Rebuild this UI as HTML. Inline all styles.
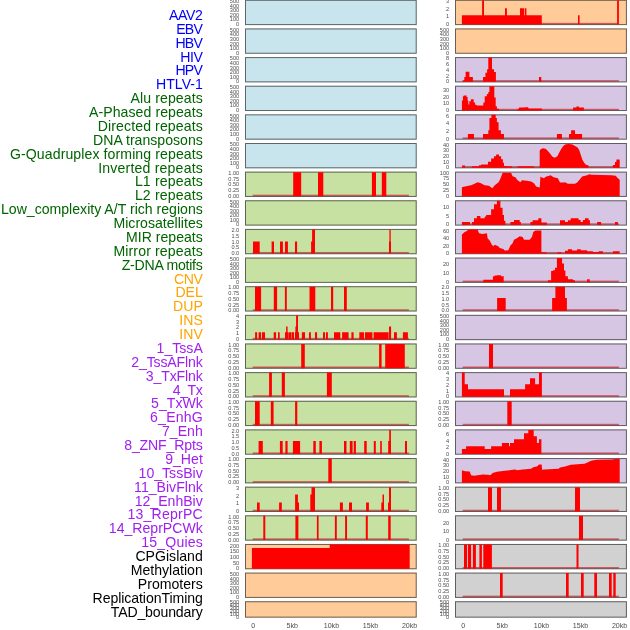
<!DOCTYPE html><html><head><meta charset="utf-8"><title>Genomic feature tracks</title><style>
html,body{margin:0;padding:0;background:#fff;width:630px;height:630px;overflow:hidden}
svg{display:block;will-change:transform}
.lab{font-family:"Liberation Sans",Arial,sans-serif;font-size:14.1px;font-kerning:normal}
.yt{font-family:"Liberation Sans",Arial,sans-serif;font-size:5.6px;fill:#4d4d4d}
.xt{font-family:"Liberation Sans",Arial,sans-serif;font-size:7.1px;fill:#4d4d4d}
</style></head><body>
<svg width="630" height="630" viewBox="0 0 630 630">
<rect x="0" y="0" width="630" height="630" fill="#fff"/>
<g class="lab" text-anchor="end">
<text x="202.8" y="19.96" fill="#0000ff" textLength="33.7" lengthAdjust="spacing">AAV2</text>
<text x="202.8" y="33.83" fill="#0000ff" textLength="26.5" lengthAdjust="spacing">EBV</text>
<text x="202.8" y="47.71" fill="#0000ff" textLength="27.28" lengthAdjust="spacing">HBV</text>
<text x="202.8" y="61.58" fill="#0000ff" textLength="22.5" lengthAdjust="spacing">HIV</text>
<text x="202.8" y="75.45" fill="#0000ff" textLength="27.28" lengthAdjust="spacing">HPV</text>
<text x="202.8" y="89.32" fill="#0000ff">HTLV-1</text>
<text x="202.8" y="103.20" fill="#006400" textLength="72.3" lengthAdjust="spacing">Alu repeats</text>
<text x="202.8" y="117.07" fill="#006400" textLength="113.83" lengthAdjust="spacing">A-Phased repeats</text>
<text x="202.8" y="130.94" fill="#006400" textLength="105.11" lengthAdjust="spacing">Directed repeats</text>
<text x="202.8" y="144.82" fill="#006400">DNA transposons</text>
<text x="202.8" y="158.69" fill="#006400" textLength="192.86" lengthAdjust="spacing">G-Quadruplex forming repeats</text>
<text x="202.8" y="172.56" fill="#006400" textLength="104.56" lengthAdjust="spacing">Inverted repeats</text>
<text x="202.8" y="186.44" fill="#006400" textLength="67.91" lengthAdjust="spacing">L1 repeats</text>
<text x="202.8" y="200.31" fill="#006400" textLength="67.91" lengthAdjust="spacing">L2 repeats</text>
<text x="202.8" y="214.18" fill="#006400">Low_complexity A/T rich regions</text>
<text x="202.8" y="228.06" fill="#006400">Microsatellites</text>
<text x="202.8" y="241.93" fill="#006400">MIR repeats</text>
<text x="202.8" y="255.80" fill="#006400" textLength="89.42" lengthAdjust="spacing">Mirror repeats</text>
<text x="202.8" y="269.67" fill="#006400" textLength="81.1" lengthAdjust="spacing">Z-DNA motifs</text>
<text x="202.8" y="283.55" fill="#ffa500" textLength="28.77" lengthAdjust="spacing">CNV</text>
<text x="202.8" y="297.42" fill="#ffa500">DEL</text>
<text x="202.8" y="311.29" fill="#ffa500">DUP</text>
<text x="202.8" y="325.17" fill="#ffa500">INS</text>
<text x="202.8" y="339.04" fill="#ffa500">INV</text>
<text x="202.8" y="352.91" fill="#a020f0">1_TssA</text>
<text x="202.8" y="366.78" fill="#a020f0" textLength="71.54" lengthAdjust="spacing">2_TssAFlnk</text>
<text x="202.8" y="380.66" fill="#a020f0" textLength="56.97" lengthAdjust="spacing">3_TxFlnk</text>
<text x="202.8" y="394.53" fill="#a020f0" textLength="30.04" lengthAdjust="spacing">4_Tx</text>
<text x="202.8" y="408.40" fill="#a020f0">5_TxWk</text>
<text x="202.8" y="422.28" fill="#a020f0" textLength="52.72" lengthAdjust="spacing">6_EnhG</text>
<text x="202.8" y="436.15" fill="#a020f0">7_Enh</text>
<text x="202.8" y="450.02" fill="#a020f0" textLength="78.59" lengthAdjust="spacing">8_ZNF_Rpts</text>
<text x="202.8" y="463.90" fill="#a020f0">9_Het</text>
<text x="202.8" y="477.77" fill="#a020f0">10_TssBiv</text>
<text x="202.8" y="491.64" fill="#a020f0">11_BivFlnk</text>
<text x="202.8" y="505.51" fill="#a020f0">12_EnhBiv</text>
<text x="202.8" y="519.39" fill="#a020f0" textLength="75.36" lengthAdjust="spacing">13_ReprPC</text>
<text x="202.8" y="533.26" fill="#a020f0">14_ReprPCWk</text>
<text x="202.8" y="547.13" fill="#a020f0" textLength="61.64" lengthAdjust="spacing">15_Quies</text>
<text x="202.8" y="561.01" fill="#000000">CPGisland</text>
<text x="202.8" y="574.88" fill="#000000">Methylation</text>
<text x="202.8" y="588.75" fill="#000000">Promoters</text>
<text x="202.8" y="602.63" fill="#000000" textLength="110.2" lengthAdjust="spacing">ReplicationTiming</text>
<text x="202.8" y="616.50" fill="#000000" textLength="92.05" lengthAdjust="spacing">TAD_boundary</text>
</g>
<rect x="245" y="-0.2" width="171.7" height="25.3" fill="#c8e4ec"/>
<rect x="245.5" y="0.3" width="170.7" height="24.3" fill="none" stroke="#333" stroke-opacity="0.72" stroke-width="1"/>
<text class="yt" x="239.2" y="3.21" text-anchor="end">500</text>
<text class="yt" x="239.2" y="7.77" text-anchor="end">400</text>
<text class="yt" x="239.2" y="12.33" text-anchor="end">300</text>
<text class="yt" x="239.2" y="16.88" text-anchor="end">200</text>
<text class="yt" x="239.2" y="21.44" text-anchor="end">100</text>
<text class="yt" x="239.2" y="26" text-anchor="end">0</text>
<rect x="245" y="28.44" width="171.7" height="25.3" fill="#c8e4ec"/>
<rect x="245.5" y="28.94" width="170.7" height="24.3" fill="none" stroke="#333" stroke-opacity="0.72" stroke-width="1"/>
<text class="yt" x="239.2" y="31.85" text-anchor="end">500</text>
<text class="yt" x="239.2" y="36.41" text-anchor="end">400</text>
<text class="yt" x="239.2" y="40.97" text-anchor="end">300</text>
<text class="yt" x="239.2" y="45.52" text-anchor="end">200</text>
<text class="yt" x="239.2" y="50.08" text-anchor="end">100</text>
<text class="yt" x="239.2" y="54.64" text-anchor="end">0</text>
<rect x="245" y="57.08" width="171.7" height="25.3" fill="#c8e4ec"/>
<rect x="245.5" y="57.58" width="170.7" height="24.3" fill="none" stroke="#333" stroke-opacity="0.72" stroke-width="1"/>
<text class="yt" x="239.2" y="60.49" text-anchor="end">500</text>
<text class="yt" x="239.2" y="65.05" text-anchor="end">400</text>
<text class="yt" x="239.2" y="69.61" text-anchor="end">300</text>
<text class="yt" x="239.2" y="74.16" text-anchor="end">200</text>
<text class="yt" x="239.2" y="78.72" text-anchor="end">100</text>
<text class="yt" x="239.2" y="83.28" text-anchor="end">0</text>
<rect x="245" y="85.72" width="171.7" height="25.3" fill="#c8e4ec"/>
<rect x="245.5" y="86.22" width="170.7" height="24.3" fill="none" stroke="#333" stroke-opacity="0.72" stroke-width="1"/>
<text class="yt" x="239.2" y="89.13" text-anchor="end">500</text>
<text class="yt" x="239.2" y="93.69" text-anchor="end">400</text>
<text class="yt" x="239.2" y="98.25" text-anchor="end">300</text>
<text class="yt" x="239.2" y="102.8" text-anchor="end">200</text>
<text class="yt" x="239.2" y="107.36" text-anchor="end">100</text>
<text class="yt" x="239.2" y="111.92" text-anchor="end">0</text>
<rect x="245" y="114.36" width="171.7" height="25.3" fill="#c8e4ec"/>
<rect x="245.5" y="114.86" width="170.7" height="24.3" fill="none" stroke="#333" stroke-opacity="0.72" stroke-width="1"/>
<text class="yt" x="239.2" y="117.77" text-anchor="end">500</text>
<text class="yt" x="239.2" y="122.33" text-anchor="end">400</text>
<text class="yt" x="239.2" y="126.89" text-anchor="end">300</text>
<text class="yt" x="239.2" y="131.44" text-anchor="end">200</text>
<text class="yt" x="239.2" y="136" text-anchor="end">100</text>
<text class="yt" x="239.2" y="140.56" text-anchor="end">0</text>
<rect x="245" y="143" width="171.7" height="25.3" fill="#c8e4ec"/>
<rect x="245.5" y="143.5" width="170.7" height="24.3" fill="none" stroke="#333" stroke-opacity="0.72" stroke-width="1"/>
<text class="yt" x="239.2" y="146.41" text-anchor="end">500</text>
<text class="yt" x="239.2" y="150.97" text-anchor="end">400</text>
<text class="yt" x="239.2" y="155.53" text-anchor="end">300</text>
<text class="yt" x="239.2" y="160.08" text-anchor="end">200</text>
<text class="yt" x="239.2" y="164.64" text-anchor="end">100</text>
<text class="yt" x="239.2" y="169.2" text-anchor="end">0</text>
<rect x="245" y="171.64" width="171.7" height="25.3" fill="#c6e1a2"/>
<rect x="252.7" y="194.69" width="156.2" height="1.5" fill="#d2323c" opacity="0.78"/>
<rect x="245.5" y="172.14" width="170.7" height="24.3" fill="none" stroke="#333" stroke-opacity="0.72" stroke-width="1"/>
<path d="M293.2 172.14H301.2V196.34H293.2ZM318 172.14H323.3V196.34H318ZM371.9 172.14H376V196.34H371.9ZM381.8 172.14H386.3V196.34H381.8Z" fill="#ff0000"/>
<text class="yt" x="239.2" y="174.83" text-anchor="end">1.00</text>
<text class="yt" x="239.2" y="180.58" text-anchor="end">0.75</text>
<text class="yt" x="239.2" y="186.34" text-anchor="end">0.50</text>
<text class="yt" x="239.2" y="192.09" text-anchor="end">0.25</text>
<text class="yt" x="239.2" y="197.84" text-anchor="end">0.00</text>
<rect x="245" y="200.28" width="171.7" height="25.3" fill="#c6e1a2"/>
<rect x="245.5" y="200.78" width="170.7" height="24.3" fill="none" stroke="#333" stroke-opacity="0.72" stroke-width="1"/>
<text class="yt" x="239.2" y="203.69" text-anchor="end">500</text>
<text class="yt" x="239.2" y="208.25" text-anchor="end">400</text>
<text class="yt" x="239.2" y="212.81" text-anchor="end">300</text>
<text class="yt" x="239.2" y="217.36" text-anchor="end">200</text>
<text class="yt" x="239.2" y="221.92" text-anchor="end">100</text>
<text class="yt" x="239.2" y="226.48" text-anchor="end">0</text>
<rect x="245" y="228.92" width="171.7" height="25.3" fill="#c6e1a2"/>
<rect x="252.7" y="251.97" width="156.2" height="1.5" fill="#d2323c" opacity="0.78"/>
<rect x="245.5" y="229.42" width="170.7" height="24.3" fill="none" stroke="#333" stroke-opacity="0.72" stroke-width="1"/>
<path d="M253 241.42H259.7V253.62H253ZM271.6 241.42H274V253.62H271.6ZM280 241.42H282.9V253.62H280ZM285 241.42H287.9V253.62H285ZM295 241.42H297.1V253.62H295ZM311.1 241.42H312.1V253.62H311.1ZM312.1 229.42H315V253.62H312.1ZM389 241.42H391V253.62H389ZM389.4 229.42H390.7V253.62H389.4Z" fill="#ff0000"/>
<text class="yt" x="239.2" y="232.11" text-anchor="end">2.0</text>
<text class="yt" x="239.2" y="237.86" text-anchor="end">1.5</text>
<text class="yt" x="239.2" y="243.62" text-anchor="end">1.0</text>
<text class="yt" x="239.2" y="249.37" text-anchor="end">0.5</text>
<text class="yt" x="239.2" y="255.12" text-anchor="end">0.0</text>
<rect x="245" y="257.56" width="171.7" height="25.3" fill="#c6e1a2"/>
<rect x="245.5" y="258.06" width="170.7" height="24.3" fill="none" stroke="#333" stroke-opacity="0.72" stroke-width="1"/>
<text class="yt" x="239.2" y="260.97" text-anchor="end">500</text>
<text class="yt" x="239.2" y="265.53" text-anchor="end">400</text>
<text class="yt" x="239.2" y="270.09" text-anchor="end">300</text>
<text class="yt" x="239.2" y="274.64" text-anchor="end">200</text>
<text class="yt" x="239.2" y="279.2" text-anchor="end">100</text>
<text class="yt" x="239.2" y="283.76" text-anchor="end">0</text>
<rect x="245" y="286.2" width="171.7" height="25.3" fill="#c6e1a2"/>
<rect x="252.7" y="309.25" width="156.2" height="1.5" fill="#d2323c" opacity="0.78"/>
<rect x="245.5" y="286.7" width="170.7" height="24.3" fill="none" stroke="#333" stroke-opacity="0.72" stroke-width="1"/>
<path d="M255 286.7H261.1V310.9H255ZM273.8 286.7H277.1V310.9H273.8ZM284.9 286.7H286.8V310.9H284.9ZM309.5 286.7H315.3V310.9H309.5ZM331 286.7H333.2V310.9H331ZM344 286.7H346.8V310.9H344Z" fill="#ff0000"/>
<text class="yt" x="239.2" y="289.39" text-anchor="end">1.00</text>
<text class="yt" x="239.2" y="295.14" text-anchor="end">0.75</text>
<text class="yt" x="239.2" y="300.9" text-anchor="end">0.50</text>
<text class="yt" x="239.2" y="306.65" text-anchor="end">0.25</text>
<text class="yt" x="239.2" y="312.4" text-anchor="end">0.00</text>
<rect x="245" y="314.84" width="171.7" height="25.3" fill="#c6e1a2"/>
<rect x="252.7" y="337.89" width="156.2" height="1.5" fill="#d2323c" opacity="0.78"/>
<rect x="245.5" y="315.34" width="170.7" height="24.3" fill="none" stroke="#333" stroke-opacity="0.72" stroke-width="1"/>
<path d="M255.1 332.24H257.1V339.54H255.1ZM258.6 332.24H261.1V339.54H258.6ZM262 332.24H265V339.54H262ZM273.7 332.24H276.1V339.54H273.7ZM278 332.24H279.7V339.54H278ZM285 332.24H286.9V339.54H285ZM287.1 332.24H288.4V339.54H287.1ZM288.7 332.24H291.1V339.54H288.7ZM291.5 332.24H294V339.54H291.5ZM295 332.24H299V339.54H295ZM301.9 332.24H305V339.54H301.9ZM309 332.24H310.9V339.54H309ZM315 332.24H317.1V339.54H315ZM323 332.24H325V339.54H323ZM326 332.24H327.9V339.54H326ZM334 332.24H340.3V339.54H334ZM342.1 332.24H348.6V339.54H342.1ZM351.4 332.24H353.6V339.54H351.4ZM359.3 332.24H364V339.54H359.3ZM365 332.24H372.4V339.54H365ZM373.6 332.24H380V339.54H373.6ZM380 332.24H388.6V339.54H380ZM394 332.24H396.9V339.54H394ZM402.9 332.24H407.9V339.54H402.9ZM286.1 326.54H287.6V339.54H286.1ZM295.4 326.54H296.6V339.54H295.4ZM389 326.54H391.1V339.54H389ZM296.1 315.34H298V339.54H296.1Z" fill="#ff0000"/>
<text class="yt" x="239.2" y="317.92" text-anchor="end">4</text>
<text class="yt" x="239.2" y="323.7" text-anchor="end">3</text>
<text class="yt" x="239.2" y="329.48" text-anchor="end">2</text>
<text class="yt" x="239.2" y="335.26" text-anchor="end">1</text>
<text class="yt" x="239.2" y="341.04" text-anchor="end">0</text>
<rect x="245" y="343.48" width="171.7" height="25.3" fill="#c6e1a2"/>
<rect x="252.7" y="366.53" width="156.2" height="1.5" fill="#d2323c" opacity="0.78"/>
<rect x="245.5" y="343.98" width="170.7" height="24.3" fill="none" stroke="#333" stroke-opacity="0.72" stroke-width="1"/>
<path d="M301.2 343.98H304.8V368.18H301.2ZM379.1 343.98H381.6V368.18H379.1ZM385.2 343.98H404.8V368.18H385.2Z" fill="#ff0000"/>
<text class="yt" x="239.2" y="346.67" text-anchor="end">1.00</text>
<text class="yt" x="239.2" y="352.42" text-anchor="end">0.75</text>
<text class="yt" x="239.2" y="358.18" text-anchor="end">0.50</text>
<text class="yt" x="239.2" y="363.93" text-anchor="end">0.25</text>
<text class="yt" x="239.2" y="369.68" text-anchor="end">0.00</text>
<rect x="245" y="372.12" width="171.7" height="25.3" fill="#c6e1a2"/>
<rect x="252.7" y="395.17" width="156.2" height="1.5" fill="#d2323c" opacity="0.78"/>
<rect x="245.5" y="372.62" width="170.7" height="24.3" fill="none" stroke="#333" stroke-opacity="0.72" stroke-width="1"/>
<path d="M269.1 372.62H271.9V396.82H269.1ZM281.8 372.62H284.9V396.82H281.8ZM326.9 372.62H331.8V396.82H326.9Z" fill="#ff0000"/>
<text class="yt" x="239.2" y="375.31" text-anchor="end">1.00</text>
<text class="yt" x="239.2" y="381.06" text-anchor="end">0.75</text>
<text class="yt" x="239.2" y="386.82" text-anchor="end">0.50</text>
<text class="yt" x="239.2" y="392.57" text-anchor="end">0.25</text>
<text class="yt" x="239.2" y="398.32" text-anchor="end">0.00</text>
<rect x="245" y="400.76" width="171.7" height="25.3" fill="#c6e1a2"/>
<rect x="252.7" y="423.81" width="156.2" height="1.5" fill="#d2323c" opacity="0.78"/>
<rect x="245.5" y="401.26" width="170.7" height="24.3" fill="none" stroke="#333" stroke-opacity="0.72" stroke-width="1"/>
<path d="M255 401.26H259.7V425.46H255ZM270.8 401.26H273.6V425.46H270.8ZM295.1 401.26H297.3V425.46H295.1Z" fill="#ff0000"/>
<text class="yt" x="239.2" y="403.95" text-anchor="end">1.00</text>
<text class="yt" x="239.2" y="409.7" text-anchor="end">0.75</text>
<text class="yt" x="239.2" y="415.46" text-anchor="end">0.50</text>
<text class="yt" x="239.2" y="421.21" text-anchor="end">0.25</text>
<text class="yt" x="239.2" y="426.96" text-anchor="end">0.00</text>
<rect x="245" y="429.4" width="171.7" height="25.3" fill="#c6e1a2"/>
<rect x="252.7" y="452.45" width="156.2" height="1.5" fill="#d2323c" opacity="0.78"/>
<rect x="245.5" y="429.9" width="170.7" height="24.3" fill="none" stroke="#333" stroke-opacity="0.72" stroke-width="1"/>
<path d="M258.6 441.1H262.8V454.1H258.6ZM279.9 441.1H282.7V454.1H279.9ZM285.4 441.1H287.6V454.1H285.4ZM292.9 441.1H300.1V454.1H292.9ZM313.3 441.1H315.8V454.1H313.3ZM319.4 441.1H321.9V454.1H319.4ZM344 441.1H346.5V454.1H344ZM349.8 441.1H352.6V454.1H349.8ZM353.7 441.1H355.9V454.1H353.7ZM364.2 441.1H366.7V454.1H364.2ZM373.8 441.1H375.8V454.1H373.8ZM380.2 441.1H381.8V454.1H380.2ZM388.2 441.1H391V454.1H388.2ZM405 441.1H407V454.1H405ZM389.2 429.9H390.9V454.1H389.2Z" fill="#ff0000"/>
<text class="yt" x="239.2" y="432.59" text-anchor="end">2.0</text>
<text class="yt" x="239.2" y="438.34" text-anchor="end">1.5</text>
<text class="yt" x="239.2" y="444.1" text-anchor="end">1.0</text>
<text class="yt" x="239.2" y="449.85" text-anchor="end">0.5</text>
<text class="yt" x="239.2" y="455.6" text-anchor="end">0.0</text>
<rect x="245" y="458.04" width="171.7" height="25.3" fill="#c6e1a2"/>
<rect x="252.7" y="481.09" width="156.2" height="1.5" fill="#d2323c" opacity="0.78"/>
<rect x="245.5" y="458.54" width="170.7" height="24.3" fill="none" stroke="#333" stroke-opacity="0.72" stroke-width="1"/>
<path d="M328.3 458.54H331.8V482.74H328.3Z" fill="#ff0000"/>
<text class="yt" x="239.2" y="461.23" text-anchor="end">1.00</text>
<text class="yt" x="239.2" y="466.98" text-anchor="end">0.75</text>
<text class="yt" x="239.2" y="472.74" text-anchor="end">0.50</text>
<text class="yt" x="239.2" y="478.49" text-anchor="end">0.25</text>
<text class="yt" x="239.2" y="484.24" text-anchor="end">0.00</text>
<rect x="245" y="486.68" width="171.7" height="25.3" fill="#c6e1a2"/>
<rect x="252.7" y="509.73" width="156.2" height="1.5" fill="#d2323c" opacity="0.78"/>
<rect x="245.5" y="487.18" width="170.7" height="24.3" fill="none" stroke="#333" stroke-opacity="0.72" stroke-width="1"/>
<path d="M257 502.38H259.7V511.38H257ZM279.1 502.38H281.8V511.38H279.1ZM297.9 502.38H299V511.38H297.9ZM339.9 502.38H342.9V511.38H339.9ZM349 502.38H352V511.38H349ZM366.1 502.38H368.9V511.38H366.1ZM381.3 502.38H382.5V511.38H381.3ZM388 502.38H391V511.38H388ZM295.1 494.58H297.9V511.38H295.1ZM310.3 494.58H311.5V511.38H310.3ZM382.5 494.58H384V511.38H382.5ZM311.5 487.18H315V511.38H311.5ZM389 487.18H391V511.38H389Z" fill="#ff0000"/>
<text class="yt" x="239.2" y="490.31" text-anchor="end">3</text>
<text class="yt" x="239.2" y="497.83" text-anchor="end">2</text>
<text class="yt" x="239.2" y="505.36" text-anchor="end">1</text>
<text class="yt" x="239.2" y="512.88" text-anchor="end">0</text>
<rect x="245" y="515.32" width="171.7" height="25.3" fill="#c6e1a2"/>
<rect x="252.7" y="538.37" width="156.2" height="1.5" fill="#d2323c" opacity="0.78"/>
<rect x="245.5" y="515.82" width="170.7" height="24.3" fill="none" stroke="#333" stroke-opacity="0.72" stroke-width="1"/>
<path d="M263.3 515.82H265.3V540.02H263.3ZM295.4 515.82H298.4V540.02H295.4ZM316.9 515.82H318.6V540.02H316.9ZM334.9 515.82H336.8V540.02H334.9ZM345.1 515.82H347V540.02H345.1ZM365.8 515.82H367.8V540.02H365.8ZM388.2 515.82H390.7V540.02H388.2Z" fill="#ff0000"/>
<text class="yt" x="239.2" y="518.51" text-anchor="end">1.00</text>
<text class="yt" x="239.2" y="524.26" text-anchor="end">0.75</text>
<text class="yt" x="239.2" y="530.02" text-anchor="end">0.50</text>
<text class="yt" x="239.2" y="535.77" text-anchor="end">0.25</text>
<text class="yt" x="239.2" y="541.52" text-anchor="end">0.00</text>
<rect x="245" y="543.96" width="171.7" height="25.3" fill="#ffcc99"/>
<rect x="252.7" y="567.01" width="156.2" height="1.5" fill="#d2323c" opacity="0.78"/>
<rect x="245.5" y="544.46" width="170.7" height="24.3" fill="none" stroke="#333" stroke-opacity="0.72" stroke-width="1"/>
<path d="M251.9 547.96H329.7V568.66H251.9ZM329.7 544.46H409.7V568.66H329.7Z" fill="#ff0000"/>
<text class="yt" x="239.2" y="547.8" text-anchor="end">200</text>
<text class="yt" x="239.2" y="553.39" text-anchor="end">150</text>
<text class="yt" x="239.2" y="558.98" text-anchor="end">100</text>
<text class="yt" x="239.2" y="564.57" text-anchor="end">50</text>
<text class="yt" x="239.2" y="570.16" text-anchor="end">0</text>
<rect x="245" y="572.6" width="171.7" height="25.3" fill="#ffcc99"/>
<rect x="245.5" y="573.1" width="170.7" height="24.3" fill="none" stroke="#333" stroke-opacity="0.72" stroke-width="1"/>
<text class="yt" x="239.2" y="576.01" text-anchor="end">500</text>
<text class="yt" x="239.2" y="580.57" text-anchor="end">400</text>
<text class="yt" x="239.2" y="585.13" text-anchor="end">300</text>
<text class="yt" x="239.2" y="589.68" text-anchor="end">200</text>
<text class="yt" x="239.2" y="594.24" text-anchor="end">100</text>
<text class="yt" x="239.2" y="598.8" text-anchor="end">0</text>
<rect x="245" y="601.24" width="171.7" height="16.4" fill="#ffcc99"/>
<rect x="245.5" y="601.74" width="170.7" height="15.4" fill="none" stroke="#333" stroke-opacity="0.72" stroke-width="1"/>
<text class="yt" x="239.2" y="604.31" text-anchor="end">500</text>
<text class="yt" x="239.2" y="607.16" text-anchor="end">400</text>
<text class="yt" x="239.2" y="610" text-anchor="end">300</text>
<text class="yt" x="239.2" y="612.85" text-anchor="end">200</text>
<text class="yt" x="239.2" y="615.69" text-anchor="end">100</text>
<text class="yt" x="239.2" y="618.54" text-anchor="end">0</text>
<rect x="455" y="-0.2" width="171.9" height="25.3" fill="#ffcc99"/>
<rect x="462.7" y="22.85" width="156.2" height="1.5" fill="#d2323c" opacity="0.78"/>
<rect x="455.5" y="0.3" width="170.9" height="24.3" fill="none" stroke="#333" stroke-opacity="0.72" stroke-width="1"/>
<path d="M461.9 15.2H541.8V24.5H461.9ZM578 15.2H579.6V24.5H578ZM505 8.3H506.9V24.5H505ZM520 8.3H524V24.5H520ZM524.7 8.3H526.4V24.5H524.7ZM482.1 0.3H484V24.5H482.1ZM617.1 0.3H618.9V24.5H617.1Z" fill="#ff0000"/>
<text class="yt" x="449.2" y="3.43" text-anchor="end">3</text>
<text class="yt" x="449.2" y="10.95" text-anchor="end">2</text>
<text class="yt" x="449.2" y="18.48" text-anchor="end">1</text>
<text class="yt" x="449.2" y="26" text-anchor="end">0</text>
<rect x="455" y="28.44" width="171.9" height="25.3" fill="#ffcc99"/>
<rect x="455.5" y="28.94" width="170.9" height="24.3" fill="none" stroke="#333" stroke-opacity="0.72" stroke-width="1"/>
<text class="yt" x="449.2" y="31.85" text-anchor="end">500</text>
<text class="yt" x="449.2" y="36.41" text-anchor="end">400</text>
<text class="yt" x="449.2" y="40.97" text-anchor="end">300</text>
<text class="yt" x="449.2" y="45.52" text-anchor="end">200</text>
<text class="yt" x="449.2" y="50.08" text-anchor="end">100</text>
<text class="yt" x="449.2" y="54.64" text-anchor="end">0</text>
<rect x="455" y="57.08" width="171.9" height="25.3" fill="#d6c6e4"/>
<rect x="462.7" y="80.13" width="156.2" height="1.5" fill="#d2323c" opacity="0.78"/>
<rect x="455.5" y="57.58" width="170.9" height="24.3" fill="none" stroke="#333" stroke-opacity="0.72" stroke-width="1"/>
<path d="M462.6 80.58H464.3V81.78H462.6ZM464.3 76.98H465.6V81.78H464.3ZM465.6 71.78H469.4V81.78H465.6ZM469.4 76.98H472.9V81.78H469.4ZM483 76.98H485.4V81.78H483ZM485.4 72.78H487.1V81.78H485.4ZM487.1 69.18H488.3V81.78H487.1ZM488.3 57.58H492V81.78H488.3ZM492 69.18H494V81.78H492ZM494 71.98H495.9V81.78H494ZM539 76.98H541.3V81.78H539Z" fill="#ff0000"/>
<text class="yt" x="449.2" y="60.16" text-anchor="end">8</text>
<text class="yt" x="449.2" y="65.94" text-anchor="end">6</text>
<text class="yt" x="449.2" y="71.72" text-anchor="end">4</text>
<text class="yt" x="449.2" y="77.5" text-anchor="end">2</text>
<text class="yt" x="449.2" y="83.28" text-anchor="end">0</text>
<rect x="455" y="85.72" width="171.9" height="25.3" fill="#d6c6e4"/>
<rect x="462.7" y="108.77" width="156.2" height="1.5" fill="#d2323c" opacity="0.78"/>
<rect x="455.5" y="86.22" width="170.9" height="24.3" fill="none" stroke="#333" stroke-opacity="0.72" stroke-width="1"/>
<path d="M461.9 100.42H462.9V110.42H461.9ZM462.9 96.22H463.7V110.42H462.9ZM463.7 95.42H466.6V110.42H463.7ZM466.6 96.92H467.6V110.42H466.6ZM467.6 100.42H468.3V110.42H467.6ZM468.3 104.42H469.3V110.42H468.3ZM469.3 101.22H470.9V110.42H469.3ZM470.9 99.32H473.7V110.42H470.9ZM473.7 102.62H475.1V110.42H473.7ZM475.1 104.72H476.6V110.42H475.1ZM476.6 105.42H483.3V110.42H476.6ZM483.3 102.62H484.7V110.42H483.3ZM484.7 96.22H486.9V110.42H484.7ZM486.9 94.02H488.3V110.42H486.9ZM488.3 91.92H489.4V110.42H488.3ZM489.4 86.22H494.3V110.42H489.4ZM494.3 97.62H495.7V110.42H494.3ZM495.7 106.22H496.9V110.42H495.7ZM496.9 108.72H499V110.42H496.9ZM517.6 108.72H519V110.42H517.6ZM519 107.62H524.7V110.42H519ZM524.7 107.32H528.3V110.42H524.7ZM528.3 108.42H541.9V110.42H528.3ZM573.1 107.62H576.4V110.42H573.1ZM576.4 106.42H578.9V110.42H576.4ZM578.9 107.62H583.9V110.42H578.9Z" fill="#ff0000"/>
<text class="yt" x="449.2" y="92.44" text-anchor="end">30</text>
<text class="yt" x="449.2" y="98.93" text-anchor="end">20</text>
<text class="yt" x="449.2" y="105.43" text-anchor="end">10</text>
<text class="yt" x="449.2" y="111.92" text-anchor="end">0</text>
<rect x="455" y="114.36" width="171.9" height="25.3" fill="#d6c6e4"/>
<rect x="462.7" y="137.41" width="156.2" height="1.5" fill="#d2323c" opacity="0.78"/>
<rect x="455.5" y="114.86" width="170.9" height="24.3" fill="none" stroke="#333" stroke-opacity="0.72" stroke-width="1"/>
<path d="M467.9 134.06H474V139.06H467.9ZM483 134.06H488.3V139.06H483ZM488.3 130.26H489.4V139.06H488.3ZM489.4 117.96H491.4V139.06H489.4ZM491.4 114.86H495.7V139.06H491.4ZM495.7 117.96H496.9V139.06H495.7ZM496.9 122.26H498.6V139.06H496.9ZM498.6 130.26H500.9V139.06H498.6ZM500.9 134.06H504V139.06H500.9ZM556.9 134.06H561.9V139.06H556.9ZM569 134.06H571.1V139.06H569ZM571.1 130.26H575V139.06H571.1ZM575 134.06H582.1V139.06H575Z" fill="#ff0000"/>
<text class="yt" x="449.2" y="117.62" text-anchor="end">6</text>
<text class="yt" x="449.2" y="125.27" text-anchor="end">4</text>
<text class="yt" x="449.2" y="132.91" text-anchor="end">2</text>
<text class="yt" x="449.2" y="140.56" text-anchor="end">0</text>
<rect x="455" y="143" width="171.9" height="25.3" fill="#d6c6e4"/>
<rect x="462.7" y="166.05" width="156.2" height="1.5" fill="#d2323c" opacity="0.78"/>
<rect x="455.5" y="143.5" width="170.9" height="24.3" fill="none" stroke="#333" stroke-opacity="0.72" stroke-width="1"/>
<path d="M461.9 165.6H465.1V167.7H461.9ZM471.9 166.3H479V167.7H471.9ZM479 165.2H481.1V167.7H479ZM481.1 164.6H488V167.7H481.1ZM488 161.7H491.1V167.7H488ZM491.1 158.5H494V167.7H491.1ZM494 156.3H496.1V167.7H494ZM496.1 154.5H499V167.7H496.1ZM499 156.3H501.1V167.7H499ZM501.1 159.2H502.9V167.7H501.1ZM502.9 162.7H504V167.7H502.9ZM504 166H506.1V167.7H504ZM506.1 166.3H511.9V167.7H506.1ZM517.6 166.3H534V167.7H517.6ZM612.9 164.9H615V167.7H612.9ZM615 162H616.4V167.7H615ZM616.4 159.5H619.7V167.7H616.4ZM539.7 167.7L539.7 150.6L541 148.9L543 148.2L545.5 148.8L547.5 150.4L550 153.4L552.5 156.8L555 157.8L557.5 156.1L559.5 152.1L561.5 148.4L563.5 145.8L565.7 144.2L569 143.9L572.5 144.4L575 145.9L577.5 147.4L579.2 150.1L580.8 155.1L582.5 159.9L584.3 162.9L586 164.8L588.6 165.6L588.6 167.7Z" fill="#ff0000"/>
<text class="yt" x="449.2" y="146.63" text-anchor="end">40</text>
<text class="yt" x="449.2" y="152.27" text-anchor="end">30</text>
<text class="yt" x="449.2" y="157.91" text-anchor="end">20</text>
<text class="yt" x="449.2" y="163.56" text-anchor="end">10</text>
<text class="yt" x="449.2" y="169.2" text-anchor="end">0</text>
<rect x="455" y="171.64" width="171.9" height="25.3" fill="#d6c6e4"/>
<rect x="462.7" y="194.69" width="156.2" height="1.5" fill="#d2323c" opacity="0.78"/>
<rect x="455.5" y="172.14" width="170.9" height="24.3" fill="none" stroke="#333" stroke-opacity="0.72" stroke-width="1"/>
<path d="M461.9 196.34L461.9 187.24L466.1 186.34L471.1 185.34L474 183.94L477.6 182.24L480.4 182.94L484.7 185.14L489 185.64L492.3 188.24L494.7 185.14L498.3 182.54L499.7 180.34L501.1 176.84L502.6 172.84L511.1 172.84L512.6 176.14L515.4 177.14L517.6 180.34L520.4 182.14L521.9 180.34L526.9 180.84L531.1 181.54L534 183.24L536.1 186.54L539.7 187.54L540.4 176.84L544 178.24L545.7 176.84L550.7 175.34L553.6 177.14L557.9 178.24L560 182.54L563.6 182.54L565 182.14L567.9 183.64L575 183.64L577.1 182.54L580 179.34L582.1 176.54L587.1 175.34L589.3 174.24L591.4 174.84L611.4 175.14L615.7 175.64L617.9 178.24L619.7 179.64L619.7 196.34Z" fill="#ff0000"/>
<text class="yt" x="449.2" y="174.6" text-anchor="end">100</text>
<text class="yt" x="449.2" y="180.41" text-anchor="end">75</text>
<text class="yt" x="449.2" y="186.22" text-anchor="end">50</text>
<text class="yt" x="449.2" y="192.03" text-anchor="end">25</text>
<text class="yt" x="449.2" y="197.84" text-anchor="end">0</text>
<rect x="455" y="200.28" width="171.9" height="25.3" fill="#d6c6e4"/>
<rect x="462.7" y="223.33" width="156.2" height="1.5" fill="#d2323c" opacity="0.78"/>
<rect x="455.5" y="200.78" width="170.9" height="24.3" fill="none" stroke="#333" stroke-opacity="0.72" stroke-width="1"/>
<path d="M461.9 222.08H470V224.98H461.9ZM471.9 222.08H474V224.98H471.9ZM474 218.18H476.9V224.98H474ZM476.9 216.08H480.4V224.98H476.9ZM480.4 218.18H484.7V224.98H480.4ZM484.7 216.38H486.1V224.98H484.7ZM486.1 214.98H491.1V224.98H486.1ZM491.1 209.18H494V224.98H491.1ZM494 204.18H496.9V224.98H494ZM496.9 200.78H500.4V224.98H496.9ZM500.4 207.78H502.6V224.98H500.4ZM502.6 214.98H504V224.98H502.6ZM504 220.68H505.4V224.98H504ZM510.4 222.08H514V224.98H510.4ZM514 219.98H519.7V224.98H514ZM519.7 222.08H520.9V224.98H519.7ZM530.4 222.08H532.6V224.98H530.4ZM532.6 220.18H538.3V224.98H532.6ZM538.3 218.18H541.4V224.98H538.3ZM541.4 222.48H546.9V224.98H541.4ZM560 220.18H565V224.98H560ZM565 222.08H567.9V224.98H565ZM567.9 220.18H570.7V224.98H567.9ZM570.7 218.18H578.6V224.98H570.7ZM578.6 219.98H580.7V224.98H578.6ZM580.7 222.08H582.9V224.98H580.7ZM582.9 219.98H585V224.98H582.9ZM585 218.18H588.6V224.98H585ZM588.6 220.18H590V224.98H588.6ZM597.1 222.08H601.1V224.98H597.1ZM615 222.08H617.9V224.98H615Z" fill="#ff0000"/>
<text class="yt" x="449.2" y="208.92" text-anchor="end">10</text>
<text class="yt" x="449.2" y="217.7" text-anchor="end">5</text>
<text class="yt" x="449.2" y="226.48" text-anchor="end">0</text>
<rect x="455" y="228.92" width="171.9" height="25.3" fill="#d6c6e4"/>
<rect x="462.7" y="251.97" width="156.2" height="1.5" fill="#d2323c" opacity="0.78"/>
<rect x="455.5" y="229.42" width="170.9" height="24.3" fill="none" stroke="#333" stroke-opacity="0.72" stroke-width="1"/>
<path d="M541.4 252.22H546.9V253.62H541.4ZM557.1 252.22H561.4V253.62H557.1ZM565 250.82H567.9V253.62H565ZM567.9 249.32H572.1V253.62H567.9ZM572.1 250.52H577.1V253.62H572.1ZM577.1 249.32H580.7V253.62H577.1ZM580.7 250.22H587.1V253.62H580.7ZM587.1 251.22H592.9V253.62H587.1ZM592.9 251.92H598.6V253.62H592.9ZM598.6 251.22H602.9V253.62H598.6ZM612.9 251.22H619.7V253.62H612.9ZM461.9 253.62L461.9 234.52L464.7 231.92L466.9 230.92L468.3 229.42L477.6 229.42L479 233.32L482.6 234.12L486.9 233.32L487.6 238.32L489.7 240.52L491.9 244.82L493.3 246.22L494.7 244.82L498.3 246.22L499.7 247.92L503.3 249.12L504.7 250.52L508.3 250.22L510.4 245.52L512.6 243.32L514 239.82L516.9 238.32L519.7 236.22L522.6 236.92L524 239.82L529.7 239.82L531.9 236.92L533.3 231.92L535.4 230.52L541.4 230.52L541.4 253.62Z" fill="#ff0000"/>
<text class="yt" x="449.2" y="232.8" text-anchor="end">60</text>
<text class="yt" x="449.2" y="240.24" text-anchor="end">40</text>
<text class="yt" x="449.2" y="247.68" text-anchor="end">20</text>
<text class="yt" x="449.2" y="255.12" text-anchor="end">0</text>
<rect x="455" y="257.56" width="171.9" height="25.3" fill="#d6c6e4"/>
<rect x="462.7" y="280.61" width="156.2" height="1.5" fill="#d2323c" opacity="0.78"/>
<rect x="455.5" y="258.06" width="170.9" height="24.3" fill="none" stroke="#333" stroke-opacity="0.72" stroke-width="1"/>
<path d="M483.3 279.86H492.9V282.26H483.3ZM492.9 276.26H494.7V282.26H492.9ZM494.7 275.56H496.9V282.26H494.7ZM496.9 275.26H501.1V282.26H496.9ZM501.1 276.26H503.7V282.26H501.1ZM547.9 280.16H551.1V282.26H547.9ZM551.1 271.06H552.9V282.26H551.1ZM552.9 270.16H555V282.26H552.9ZM555 267.76H556.9V282.26H555ZM556.9 258.06H562.1V282.26H556.9ZM562.1 263.46H564V282.26H562.1ZM564 270.56H565.4V282.26H564ZM565.4 276.26H567.9V282.26H565.4ZM567.9 279.16H572.9V282.26H567.9ZM572.9 280.16H575V282.26H572.9ZM587.1 279.16H589.7V282.26H587.1Z" fill="#ff0000"/>
<text class="yt" x="449.2" y="266.46" text-anchor="end">20</text>
<text class="yt" x="449.2" y="275.11" text-anchor="end">10</text>
<text class="yt" x="449.2" y="283.76" text-anchor="end">0</text>
<rect x="455" y="286.2" width="171.9" height="25.3" fill="#d6c6e4"/>
<rect x="462.7" y="309.25" width="156.2" height="1.5" fill="#d2323c" opacity="0.78"/>
<rect x="455.5" y="286.7" width="170.9" height="24.3" fill="none" stroke="#333" stroke-opacity="0.72" stroke-width="1"/>
<path d="M497.1 298H505.7V310.9H497.1ZM552.1 298H566.9V310.9H552.1ZM555.4 286.7H565V310.9H555.4Z" fill="#ff0000"/>
<text class="yt" x="449.2" y="289.39" text-anchor="end">2.0</text>
<text class="yt" x="449.2" y="295.14" text-anchor="end">1.5</text>
<text class="yt" x="449.2" y="300.9" text-anchor="end">1.0</text>
<text class="yt" x="449.2" y="306.65" text-anchor="end">0.5</text>
<text class="yt" x="449.2" y="312.4" text-anchor="end">0.0</text>
<rect x="455" y="314.84" width="171.9" height="25.3" fill="#d6c6e4"/>
<rect x="455.5" y="315.34" width="170.9" height="24.3" fill="none" stroke="#333" stroke-opacity="0.72" stroke-width="1"/>
<text class="yt" x="449.2" y="318.25" text-anchor="end">500</text>
<text class="yt" x="449.2" y="322.81" text-anchor="end">400</text>
<text class="yt" x="449.2" y="327.37" text-anchor="end">300</text>
<text class="yt" x="449.2" y="331.92" text-anchor="end">200</text>
<text class="yt" x="449.2" y="336.48" text-anchor="end">100</text>
<text class="yt" x="449.2" y="341.04" text-anchor="end">0</text>
<rect x="455" y="343.48" width="171.9" height="25.3" fill="#d6c6e4"/>
<rect x="462.7" y="366.53" width="156.2" height="1.5" fill="#d2323c" opacity="0.78"/>
<rect x="455.5" y="343.98" width="170.9" height="24.3" fill="none" stroke="#333" stroke-opacity="0.72" stroke-width="1"/>
<path d="M489 343.98H493V368.18H489Z" fill="#ff0000"/>
<text class="yt" x="449.2" y="346.67" text-anchor="end">1.00</text>
<text class="yt" x="449.2" y="352.42" text-anchor="end">0.75</text>
<text class="yt" x="449.2" y="358.18" text-anchor="end">0.50</text>
<text class="yt" x="449.2" y="363.93" text-anchor="end">0.25</text>
<text class="yt" x="449.2" y="369.68" text-anchor="end">0.00</text>
<rect x="455" y="372.12" width="171.9" height="25.3" fill="#d6c6e4"/>
<rect x="462.7" y="395.17" width="156.2" height="1.5" fill="#d2323c" opacity="0.78"/>
<rect x="455.5" y="372.62" width="170.9" height="24.3" fill="none" stroke="#333" stroke-opacity="0.72" stroke-width="1"/>
<path d="M461.9 372.62H464.7V396.82H461.9ZM464.7 384.22H468V396.82H464.7ZM468 389.32H504V396.82H468ZM510 389.32H525.1V396.82H510ZM525.1 384.22H530V396.82H525.1ZM530 378.22H535.1V396.82H530ZM535.1 384.22H539V396.82H535.1ZM539 372.62H541.9V396.82H539Z" fill="#ff0000"/>
<text class="yt" x="449.2" y="375.2" text-anchor="end">4</text>
<text class="yt" x="449.2" y="380.98" text-anchor="end">3</text>
<text class="yt" x="449.2" y="386.76" text-anchor="end">2</text>
<text class="yt" x="449.2" y="392.54" text-anchor="end">1</text>
<text class="yt" x="449.2" y="398.32" text-anchor="end">0</text>
<rect x="455" y="400.76" width="171.9" height="25.3" fill="#d6c6e4"/>
<rect x="462.7" y="423.81" width="156.2" height="1.5" fill="#d2323c" opacity="0.78"/>
<rect x="455.5" y="401.26" width="170.9" height="24.3" fill="none" stroke="#333" stroke-opacity="0.72" stroke-width="1"/>
<path d="M507.3 401.26H511.7V425.46H507.3Z" fill="#ff0000"/>
<text class="yt" x="449.2" y="403.95" text-anchor="end">1.00</text>
<text class="yt" x="449.2" y="409.7" text-anchor="end">0.75</text>
<text class="yt" x="449.2" y="415.46" text-anchor="end">0.50</text>
<text class="yt" x="449.2" y="421.21" text-anchor="end">0.25</text>
<text class="yt" x="449.2" y="426.96" text-anchor="end">0.00</text>
<rect x="455" y="429.4" width="171.9" height="25.3" fill="#d6c6e4"/>
<rect x="462.7" y="452.45" width="156.2" height="1.5" fill="#d2323c" opacity="0.78"/>
<rect x="455.5" y="429.9" width="170.9" height="24.3" fill="none" stroke="#333" stroke-opacity="0.72" stroke-width="1"/>
<path d="M461.9 449.1H466.1V454.1H461.9ZM466.1 446.2H484.7V454.1H466.1ZM484.7 449.1H491.1V454.1H484.7ZM491.1 446.2H501.9V454.1H491.1ZM501.9 443.1H509V454.1H501.9ZM509 446.2H510V454.1H509ZM510 443.1H514V454.1H510ZM514 439.3H524V454.1H514ZM524 433.3H528.3V454.1H524ZM528.3 429.9H533.7V454.1H528.3ZM533.7 436.2H536.9V454.1H533.7ZM536.9 443.1H539V454.1H536.9ZM539 439.3H541.4V454.1H539Z" fill="#ff0000"/>
<text class="yt" x="449.2" y="436.12" text-anchor="end">6</text>
<text class="yt" x="449.2" y="442.61" text-anchor="end">4</text>
<text class="yt" x="449.2" y="449.11" text-anchor="end">2</text>
<text class="yt" x="449.2" y="455.6" text-anchor="end">0</text>
<rect x="455" y="458.04" width="171.9" height="25.3" fill="#d6c6e4"/>
<rect x="462.7" y="481.09" width="156.2" height="1.5" fill="#d2323c" opacity="0.78"/>
<rect x="455.5" y="458.54" width="170.9" height="24.3" fill="none" stroke="#333" stroke-opacity="0.72" stroke-width="1"/>
<path d="M461.9 482.74L461.9 470.14L465.1 471.34L469.7 471.44L471.1 475.14L474 475.84L477.6 475.14L482.6 474.44L488.3 474.74L490.4 475.14L492.6 473.04L496.9 471.84L504.7 470.84L512.6 469.84L515.4 469.44L516.9 470.14L522.6 469.44L531.1 468.74L533.3 467.34L536.9 466.54L539 464.44L541.7 464.44L542.1 469.84L544.3 469.44L558.6 468.74L560 467.54L565 466.54L570.7 464.74L574.3 464.44L584.3 463.74L587.1 462.74L589.3 461.54L592.1 460.44L597.1 459.84L611.4 459.44L615.7 459.04L619.7 459.04L619.7 482.74Z" fill="#ff0000"/>
<text class="yt" x="449.2" y="461.67" text-anchor="end">40</text>
<text class="yt" x="449.2" y="467.31" text-anchor="end">30</text>
<text class="yt" x="449.2" y="472.95" text-anchor="end">20</text>
<text class="yt" x="449.2" y="478.6" text-anchor="end">10</text>
<text class="yt" x="449.2" y="484.24" text-anchor="end">0</text>
<rect x="455" y="486.68" width="171.9" height="25.3" fill="#d1d1d1"/>
<rect x="462.7" y="509.73" width="156.2" height="1.5" fill="#d2323c" opacity="0.78"/>
<rect x="455.5" y="487.18" width="170.9" height="24.3" fill="none" stroke="#333" stroke-opacity="0.72" stroke-width="1"/>
<path d="M488 487.18H492V511.38H488ZM497 487.18H501V511.38H497ZM575 487.18H580V511.38H575Z" fill="#ff0000"/>
<text class="yt" x="449.2" y="489.87" text-anchor="end">1.00</text>
<text class="yt" x="449.2" y="495.62" text-anchor="end">0.75</text>
<text class="yt" x="449.2" y="501.38" text-anchor="end">0.50</text>
<text class="yt" x="449.2" y="507.13" text-anchor="end">0.25</text>
<text class="yt" x="449.2" y="512.88" text-anchor="end">0.00</text>
<rect x="455" y="515.32" width="171.9" height="25.3" fill="#d1d1d1"/>
<rect x="462.7" y="538.37" width="156.2" height="1.5" fill="#d2323c" opacity="0.78"/>
<rect x="455.5" y="515.82" width="170.9" height="24.3" fill="none" stroke="#333" stroke-opacity="0.72" stroke-width="1"/>
<path d="M579 515.82H583V540.02H579Z" fill="#ff0000"/>
<text class="yt" x="449.2" y="525.4" text-anchor="end">20</text>
<text class="yt" x="449.2" y="533.46" text-anchor="end">10</text>
<text class="yt" x="449.2" y="541.52" text-anchor="end">0</text>
<rect x="455" y="543.96" width="171.9" height="25.3" fill="#d1d1d1"/>
<rect x="462.7" y="567.01" width="156.2" height="1.5" fill="#d2323c" opacity="0.78"/>
<rect x="455.5" y="544.46" width="170.9" height="24.3" fill="none" stroke="#333" stroke-opacity="0.72" stroke-width="1"/>
<path d="M464 544.46H467.1V568.66H464ZM468 544.46H471.1V568.66H468ZM472.9 544.46H475.9V568.66H472.9ZM479.4 544.46H481.9V568.66H479.4ZM483.3 544.46H491.9V568.66H483.3ZM576.5 544.46H578.5V568.66H576.5Z" fill="#ff0000"/>
<text class="yt" x="449.2" y="547.15" text-anchor="end">1.00</text>
<text class="yt" x="449.2" y="552.9" text-anchor="end">0.75</text>
<text class="yt" x="449.2" y="558.66" text-anchor="end">0.50</text>
<text class="yt" x="449.2" y="564.41" text-anchor="end">0.25</text>
<text class="yt" x="449.2" y="570.16" text-anchor="end">0.00</text>
<rect x="455" y="572.6" width="171.9" height="25.3" fill="#d1d1d1"/>
<rect x="462.7" y="595.65" width="156.2" height="1.5" fill="#d2323c" opacity="0.78"/>
<rect x="455.5" y="573.1" width="170.9" height="24.3" fill="none" stroke="#333" stroke-opacity="0.72" stroke-width="1"/>
<path d="M500 573.1H502.7V597.3H500ZM566 573.1H568.7V597.3H566ZM581 573.1H583.7V597.3H581ZM594.3 573.1H597V597.3H594.3ZM609 573.1H611.7V597.3H609ZM613.3 573.1H615.7V597.3H613.3Z" fill="#ff0000"/>
<text class="yt" x="449.2" y="575.79" text-anchor="end">1.00</text>
<text class="yt" x="449.2" y="581.54" text-anchor="end">0.75</text>
<text class="yt" x="449.2" y="587.3" text-anchor="end">0.50</text>
<text class="yt" x="449.2" y="593.05" text-anchor="end">0.25</text>
<text class="yt" x="449.2" y="598.8" text-anchor="end">0.00</text>
<rect x="455" y="601.24" width="171.9" height="16.4" fill="#d1d1d1"/>
<rect x="455.5" y="601.74" width="170.9" height="15.4" fill="none" stroke="#333" stroke-opacity="0.72" stroke-width="1"/>
<text class="yt" x="449.2" y="604.31" text-anchor="end">500</text>
<text class="yt" x="449.2" y="607.16" text-anchor="end">400</text>
<text class="yt" x="449.2" y="610" text-anchor="end">300</text>
<text class="yt" x="449.2" y="612.85" text-anchor="end">200</text>
<text class="yt" x="449.2" y="615.69" text-anchor="end">100</text>
<text class="yt" x="449.2" y="618.54" text-anchor="end">0</text>
<text class="xt" x="253.2" y="627.9" text-anchor="middle">0</text>
<text class="xt" x="292.3" y="627.9" text-anchor="middle">5kb</text>
<text class="xt" x="331.4" y="627.9" text-anchor="middle">10kb</text>
<text class="xt" x="370.5" y="627.9" text-anchor="middle">15kb</text>
<text class="xt" x="409.6" y="627.9" text-anchor="middle">20kb</text>
<text class="xt" x="463.2" y="627.9" text-anchor="middle">0</text>
<text class="xt" x="502.3" y="627.9" text-anchor="middle">5kb</text>
<text class="xt" x="541.4" y="627.9" text-anchor="middle">10kb</text>
<text class="xt" x="580.5" y="627.9" text-anchor="middle">15kb</text>
<text class="xt" x="619.6" y="627.9" text-anchor="middle">20kb</text>
</svg></body></html>
